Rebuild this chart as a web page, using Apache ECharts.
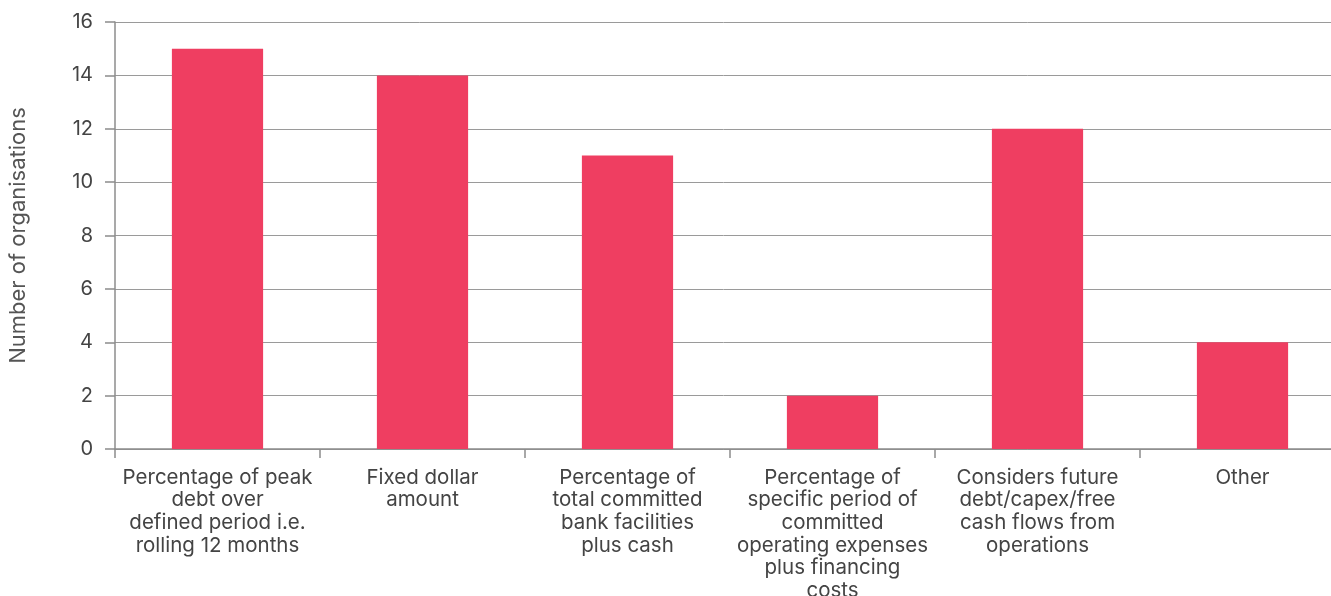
<!DOCTYPE html>
<html>
<head>
<meta charset="utf-8">
<style>
  html, body { margin: 0; padding: 0; background: #ffffff; }
  #chart { width: 1331px; height: 596px; }
</style>
<script src="https://cdn.jsdelivr.net/npm/echarts@6/dist/echarts.min.js"></script>
</head>
<body>
<div id="chart"></div>
<script>
// Survey categories (wrapped as printed under the axis)
const categories = [
  'Percentage of peak\ndebt over\ndefined period i.e.\nrolling 12 months',
  'Fixed dollar\namount',
  'Percentage of\ntotal committed\nbank facilities\nplus cash',
  'Percentage of\nspecific period of\ncommitted\noperating expenses\nplus financing\ncosts',
  'Considers future\ndebt/capex/free\ncash flows from\noperations',
  'Other'
];
// Number of organisations per category
const organisations = [15, 14, 11, 2, 12, 4];
const yAxisTitle = 'Number of organisations';

const chart = echarts.init(document.getElementById('chart'), null, { renderer: 'canvas' });
const fontFamily = 'Inter, "Liberation Sans", Arial, sans-serif';

chart.setOption({
  animation: false,
  backgroundColor: '#ffffff',
  // plot area runs past the right edge of the canvas; labels may overflow the bottom
  grid: { left: 115, top: 22, width: 1230, height: 427, containLabel: false, outerBoundsMode: 'none' },
  xAxis: {
    type: 'category',
    data: categories,
    axisLine: { lineStyle: { color: '#8c8c8c', width: 1.5 } },
    axisTick: { show: true, length: 9, alignWithLabel: false, lineStyle: { color: '#8c8c8c', width: 1.5 } },
    axisLabel: {
      interval: 0,
      margin: 17,
      fontFamily: fontFamily,
      fontSize: 20.5,
      lineHeight: 22.7,
      color: '#444444',
      align: 'center'
    },
    splitLine: { show: false }
  },
  yAxis: {
    type: 'value',
    min: 0,
    max: 16,
    interval: 2,
    name: yAxisTitle,
    nameLocation: 'middle',
    nameGap: 86,
    nameRotate: 90,
    nameTextStyle: { fontFamily: fontFamily, fontSize: 22, color: '#555555' },
    axisLine: { show: true, lineStyle: { color: '#8c8c8c', width: 1.5 } },
    axisTick: { show: true, length: 10, lineStyle: { color: '#8c8c8c', width: 1.5 } },
    axisLabel: {
      margin: 22,
      fontFamily: fontFamily,
      fontSize: 20,
      color: '#444444'
    },
    splitLine: { show: true, lineStyle: { color: '#9a9a9a', width: 1 } }
  },
  series: [{
    type: 'bar',
    data: organisations,
    barWidth: '44.5%',
    itemStyle: { color: '#ef3e61' },
    emphasis: { disabled: true }
  }]
});
</script>
</body>
</html>
